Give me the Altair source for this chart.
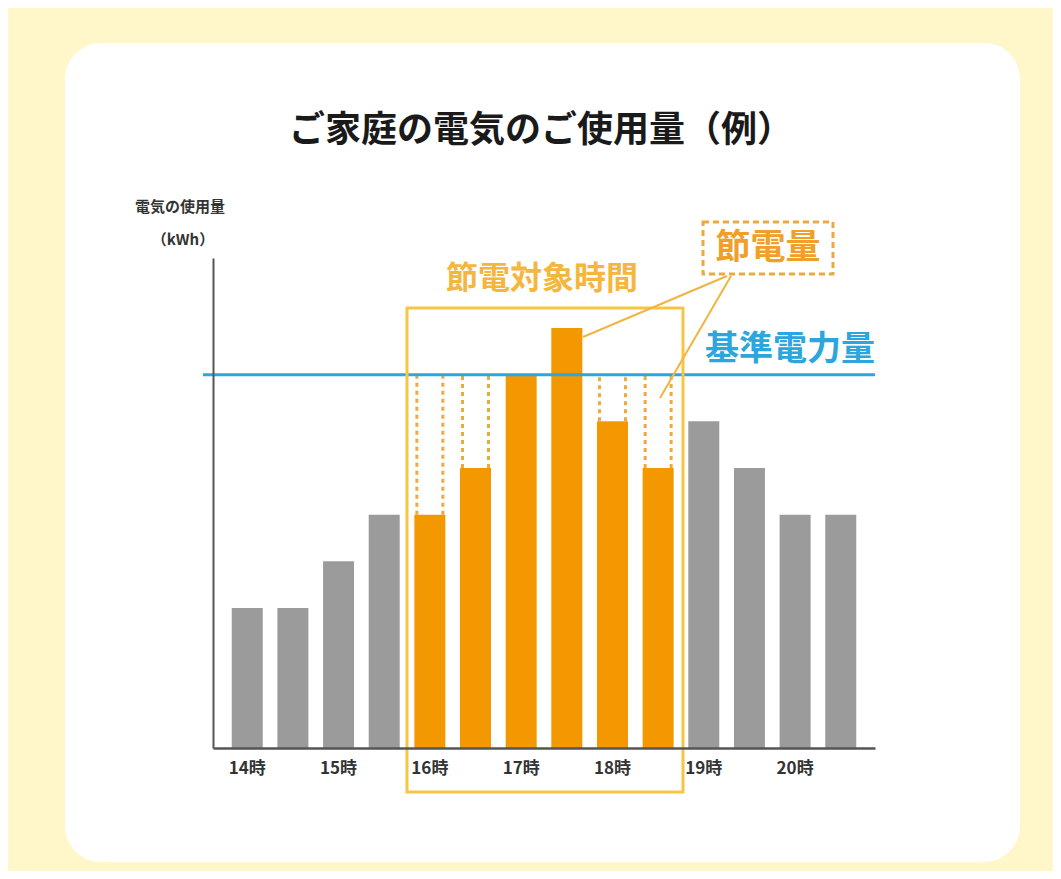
import altair as alt
import pandas as pd

# ---- data ----
times = ["14:00", "14:30", "15:00", "15:30", "16:00", "16:30", "17:00",
         "17:30", "18:00", "18:30", "19:00", "19:30", "20:00", "20:30"]
usage = [3, 3, 4, 5, 5, 6, 8, 9, 7, 6, 7, 6, 5, 5]
in_target = [False, False, False, False, True, True, True,
             True, True, True, False, False, False, False]
baseline_value = 8
saved_times = ["16:00", "16:30", "18:00", "18:30"]
saved_actual = [5, 6, 7, 6]

FONT = "Noto Sans CJK JP"
GRAY = "#9b9b9b"
ORANGE = "#f39800"
BLUE = "#2ba6de"
GOLD = "#f6c545"
DASH = "#eea93c"

df = pd.DataFrame({"time": times, "usage": usage,
                   "group": ["target" if t else "normal" for t in in_target]})
saved = pd.DataFrame({"time": saved_times, "actual": saved_actual,
                      "base": [baseline_value] * len(saved_times)})
base_df = pd.DataFrame({"v": [baseline_value]})

xscale = alt.Scale(domain=times, paddingInner=0.32, paddingOuter=0.41)
yscale = alt.Scale(domain=[0, 10.5])

W, H = 662, 490

panel = alt.Chart(base_df).mark_rect(color="white", cornerRadius=36).encode(
    x=alt.value(-148), x2=alt.value(807), y=alt.value(-215), y2=alt.value(604))

bars = alt.Chart(df).mark_bar(size=31).encode(
    x=alt.X("time:N", scale=xscale, sort=times,
            axis=alt.Axis(title=None, ticks=False, domainColor="#555555",
                          domainWidth=2.5, labelAngle=0, labelFont=FONT,
                          labelFontSize=17, labelFontWeight="bold",
                          labelColor="#333333", labelPadding=12, zindex=1,
                          labelExpr="split(datum.value, ':')[1] == '00' ? split(datum.value, ':')[0] + '時' : ''")),
    y=alt.Y("usage:Q", scale=yscale,
            axis=alt.Axis(title=None, labels=False, ticks=False, grid=False,
                          domainColor="#555555", domainWidth=2, zindex=1)),
    color=alt.Color("group:N", scale=alt.Scale(domain=["normal", "target"],
                                                range=[GRAY, ORANGE]), legend=None),
)

dash_l = alt.Chart(saved).mark_rule(color=DASH, strokeWidth=3, strokeDash=[4, 4],
                                     xOffset=-13).encode(
    x=alt.X("time:N", scale=xscale, sort=times), y=alt.Y("actual:Q", scale=yscale), y2="base")
dash_r = alt.Chart(saved).mark_rule(color=DASH, strokeWidth=3, strokeDash=[4, 4],
                                     xOffset=13).encode(
    x=alt.X("time:N", scale=xscale, sort=times), y=alt.Y("actual:Q", scale=yscale), y2="base")

ref = alt.Chart(base_df).mark_rule(color=BLUE, strokeWidth=3).encode(
    y=alt.Y("v:Q", scale=yscale), x=alt.value(-10), x2=alt.value(W))

frame = alt.Chart(base_df).mark_rect(filled=False, stroke=GOLD, strokeWidth=3).encode(
    x=alt.value(194), x2=alt.value(470), y=alt.value(50), y2=alt.value(534))

sbox = alt.Chart(base_df).mark_rect(filled=False, stroke=DASH, strokeWidth=3,
                                     strokeDash=[6, 4]).encode(
    x=alt.value(490), x2=alt.value(620), y=alt.value(-36), y2=alt.value(16))

lead1 = alt.Chart(base_df).mark_rule(color="#f2b441", strokeWidth=2).encode(
    x=alt.value(370), y=alt.value(79), x2=alt.value(514), y2=alt.value(18))
lead2 = alt.Chart(base_df).mark_rule(color="#f2b441", strokeWidth=2).encode(
    x=alt.value(447), y=alt.value(140), x2=alt.value(518), y2=alt.value(18))


def label(text, x, y, size, color, align="center"):
    return alt.Chart(pd.DataFrame({"t": [text]})).mark_text(
        font=FONT, fontSize=size, fontWeight="bold", color=color,
        align=align, baseline="middle").encode(
        text="t:N", x=alt.value(x), y=alt.value(y))


texts = [
    label("ご家庭の電気のご使用量（例）", 328, -127, 36, "#1a1a1a"),
    label("電気の使用量", -33, -51, 15, "#333333"),
    label("（kWh）", -30, -18, 15, "#333333"),
    label("節電対象時間", 329, 21, 32, "#f5b63d"),
    label("節電量", 555, -10, 35, "#f0a028"),
    label("基準電力量", 577, 92, 34, BLUE),
]

chart = alt.layer(panel, bars, dash_l, dash_r, ref, frame, sbox, lead1, lead2, *texts).properties(
    width=W, height=H,
    autosize=alt.AutoSizeParams(type="none"),
    padding={"left": 205, "top": 250, "right": 178, "bottom": 123},
    background="#fff6c9",
).configure_view(stroke=None)

chart.save("out.html", embed_options={"renderer": "svg", "actions": False})
